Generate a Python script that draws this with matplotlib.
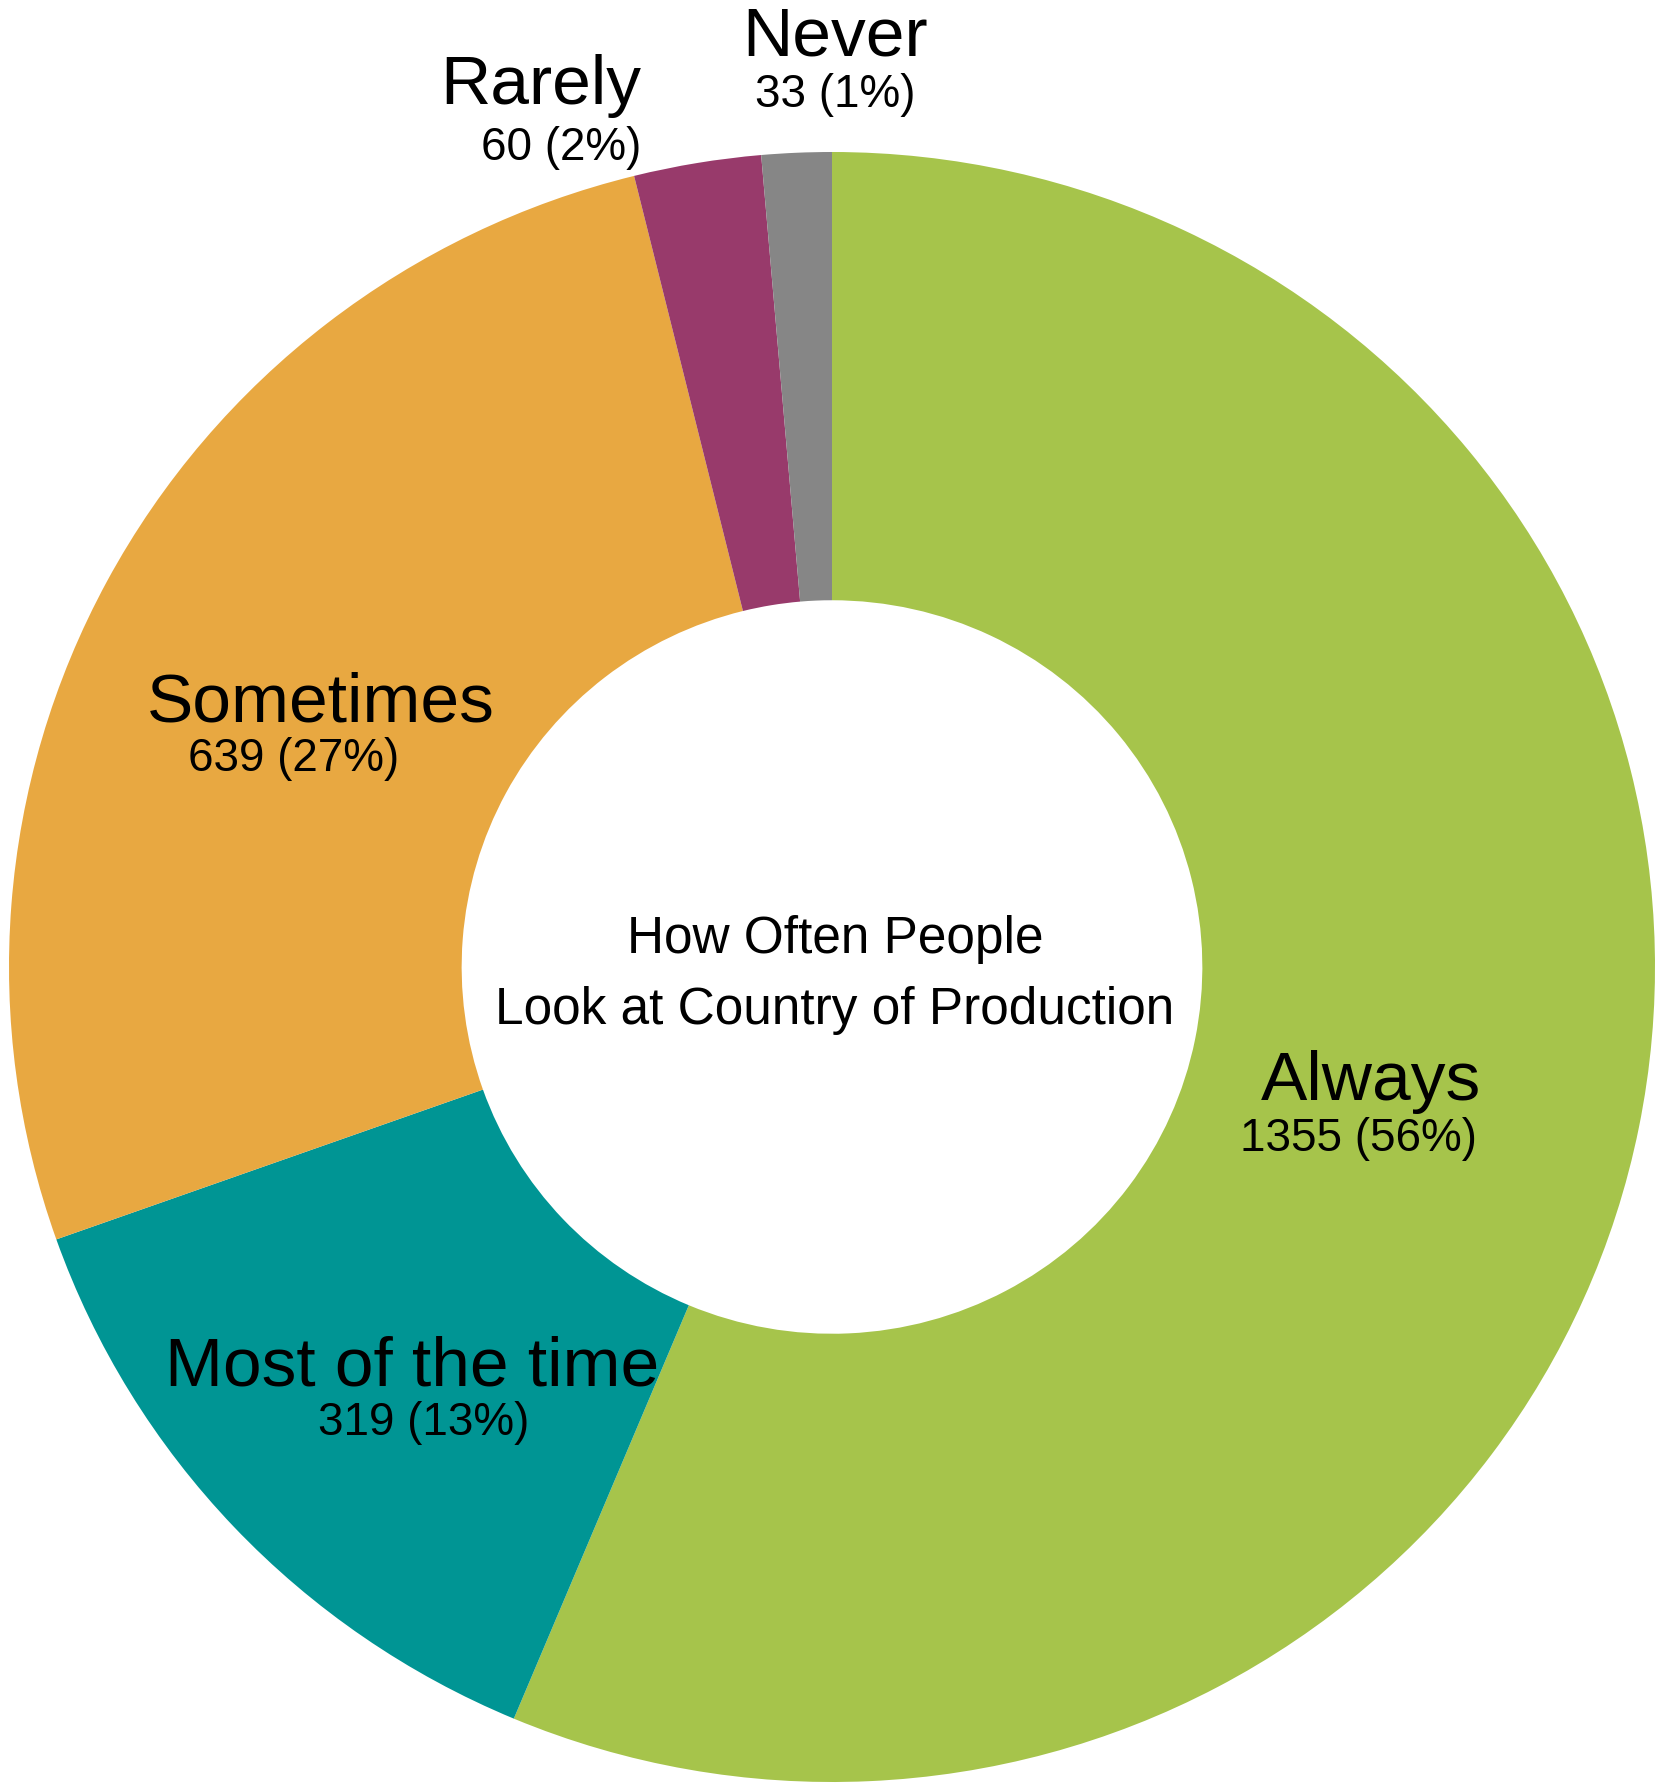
import matplotlib
matplotlib.use("Agg")
import matplotlib.pyplot as plt

categories = ["Always", "Most of the time", "Sometimes", "Rarely", "Never"]
counts = [1355, 319, 639, 60, 33]
colors = ["#A6C44B", "#009594", "#E8A841", "#983A6B", "#868686"]
center_title = "How Often People\nLook at Country of Production"

plt.rcParams["font.family"] = ["Liberation Sans", "DejaVu Sans"]

W, H = 1666, 1786
fig = plt.figure(figsize=(W / 100, H / 100), dpi=100)
ax = fig.add_axes([0, 0, 1, 1])

# centre and radii of the ring, in pixels
cx, cy = 832, 967
rx, ry = 823, 815

ax.pie(counts, colors=colors, startangle=90, counterclock=False,
       radius=1.0, wedgeprops=dict(width=0.55, edgecolor="none", linewidth=0))
ax.set_aspect("auto")
ax.set_xlim(-cx / rx, (W - cx) / rx)
ax.set_ylim(-(H - cy) / ry, cy / ry)
ax.axis("off")

total = sum(counts)


def px(x, y):
    return x / W, 1 - y / H


# label spots (pixels): name line and value line
name_pos = [(1371, 1082), (412, 1367), (321, 704), (541, 86), (835, 38)]
value_pos = [(1359, 1139), (424, 1423), (294, 759), (561, 148), (835, 95)]

for cat, n, p1, p2 in zip(categories, counts, name_pos, value_pos):
    pct = round(100 * n / total)
    fig.text(*px(*p1), cat, ha="center", va="center", fontsize=50)
    fig.text(*px(*p2), f"{n} ({pct}%)", ha="center", va="center", fontsize=33)

fig.text(*px(835, 975), center_title, ha="center", va="center",
         fontsize=37, linespacing=1.6)

fig.savefig("out.png", dpi=100, facecolor="white")
